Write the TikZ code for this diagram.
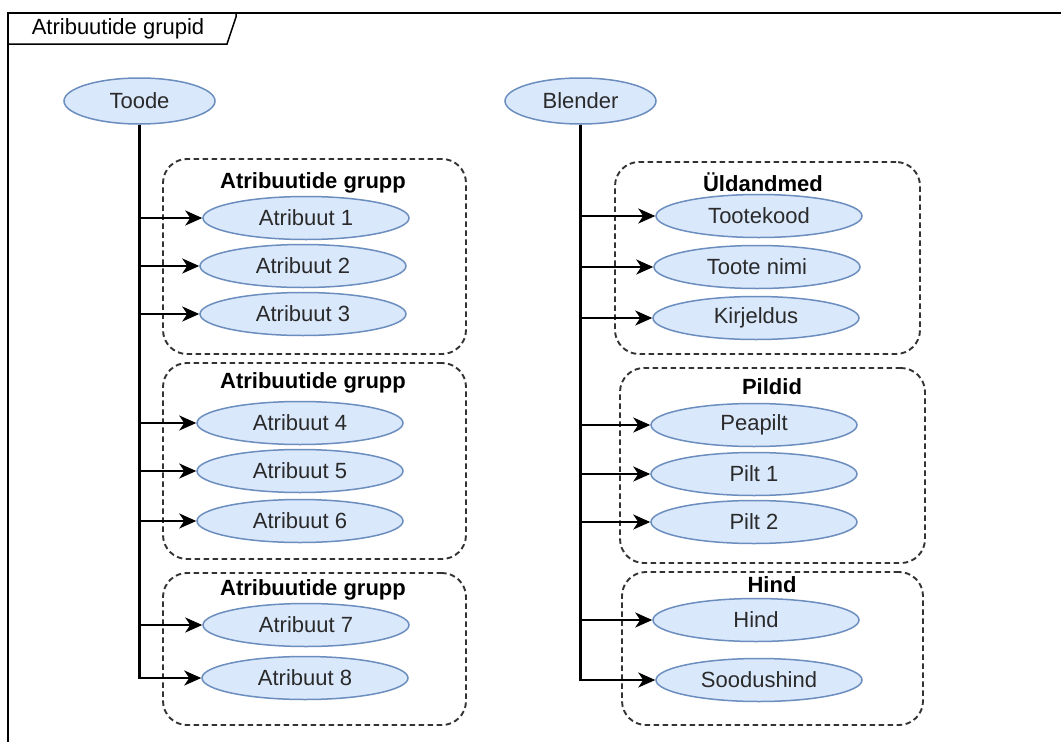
\documentclass[tikz,border=0pt]{standalone}
\usepackage{fontspec}
\setmainfont{Liberation Sans}
\usetikzlibrary{arrows.meta,shapes.geometric}
\definecolor{attrfill}{HTML}{DAE8FC}
\definecolor{attrline}{HTML}{6C8EBF}
\definecolor{txt}{HTML}{2A2A2A}
\definecolor{grpline}{HTML}{333333}
\tikzset{
  lbl/.style={font=\fontsize{22}{26}\selectfont, text=txt},
  attr/.style={ellipse, draw=attrline, fill=attrfill, line width=1.5pt,
    minimum width=206pt, minimum height=43pt, inner sep=0pt, lbl},
  root/.style={attr, minimum width=151pt, minimum height=46pt},
  grpbox/.style={draw=grpline, line width=1.9pt, dash pattern=on 5.5pt off 3.5pt,
    rounded corners=24pt, inner sep=0pt},
  grptitle/.style={lbl, font=\fontsize{22}{26}\selectfont\bfseries, text=black},
  link/.style={draw=black, line width=2.4pt,
    -{Stealth[length=17pt,width=15pt,inset=5pt]}},
}
\begin{document}
\begin{tikzpicture}[x=1pt,y=-1pt]
\useasboundingbox (0,0) rectangle (1061,742);
\fill[white] (0,0) rectangle (1061,742);

% outer frame with title tab
\begin{scope}
\clip (0,0) rectangle (1061,742);
\draw[line width=2.6pt] (8,800) -- (8,13) -- (1100,13);
\draw[line width=1.5pt] (8,44) -- (227,44) -- (236,17) -- (236,13);
\end{scope}
\node[lbl, text=black] (frametitle) at (118,29) {Atribuutide grupid};

% group frames
\node[grpbox, minimum width=303pt, minimum height=195pt] (g1) at (314.5,256.5) {};
\node[grpbox, minimum width=303pt, minimum height=196pt] (g2) at (314.5,461) {};
\node[grpbox, minimum width=303pt, minimum height=152pt] (g3) at (314.5,649) {};
\node[grpbox, minimum width=305pt, minimum height=192pt] (gA) at (767.5,258) {};
\node[grpbox, minimum width=305pt, minimum height=195pt] (gB) at (772.5,465.5) {};
\node[grpbox, minimum width=301pt, minimum height=153pt] (gC) at (772.5,648.5) {};

\node[grptitle] (t1) at (313,183) {Atribuutide grupp};
\node[grptitle] (t2) at (313,383) {Atribuutide grupp};
\node[grptitle] (t3) at (313,590) {Atribuutide grupp};
\node[grptitle] (tA) at (763,182) {Üldandmed};
\node[grptitle] (tB) at (772,387) {Pildid};
\node[grptitle] (tC) at (772,585) {Hind};

% root objects
\node[root] (toode) at (139.5,101) {Toode};
\node[root] (blender) at (580.5,101) {Blender};

% attributes of the generic product
\node[attr] (a1) at (306,218) {Atribuut 1};
\node[attr] (a2) at (303,266) {Atribuut 2};
\node[attr] (a3) at (303,314) {Atribuut 3};
\node[attr] (a4) at (300,423) {Atribuut 4};
\node[attr] (a5) at (300,471) {Atribuut 5};
\node[attr] (a6) at (300,521) {Atribuut 6};
\node[attr] (a7) at (306,625) {Atribuut 7};
\node[attr] (a8) at (305,678) {Atribuut 8};

% attributes of the blender
\node[attr] (b1) at (759,216) {Tootekood};
\node[attr] (b2) at (757,267) {Toote nimi};
\node[attr] (b3) at (756,318) {Kirjeldus};
\node[attr] (b4) at (754,425) {Peapilt};
\node[attr] (b5) at (754,474) {Pilt 1};
\node[attr] (b6) at (754,522) {Pilt 2};
\node[attr] (b7) at (756,620) {Hind};
\node[attr] (b8) at (759,680) {Soodushind};

% orthogonal connectors: down the spine, then right into each attribute
\foreach \n in {a1,a2,a3,a4,a5,a6,a7,a8}
  \path[link] (toode.south) |- (\n.west);
\foreach \n in {b1,b2,b3,b4,b5,b6,b7,b8}
  \path[link] (blender.south) |- (\n.west);
\end{tikzpicture}
\end{document}
